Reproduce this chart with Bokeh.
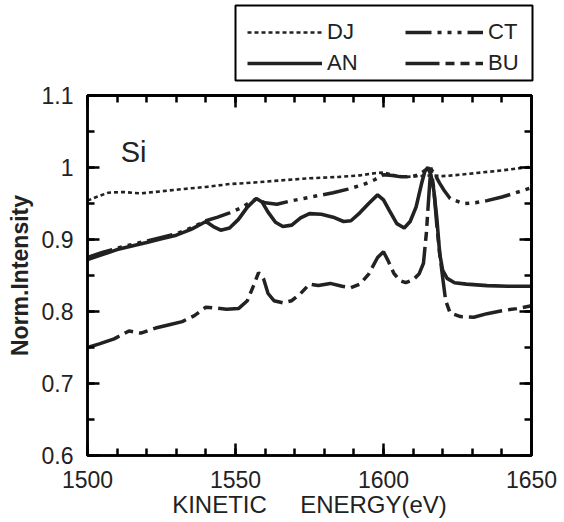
from bokeh.plotting import figure
from bokeh.models import FixedTicker, LinearAxis, Legend, LegendItem, Label, Range1d, Spacer
from bokeh.layouts import column, row
from bokeh.embed import file_html
from bokeh.resources import INLINE

# ---- data ----
dj_e = [1500, 1503, 1507, 1512, 1518, 1525, 1532, 1540, 1548, 1556, 1565, 1575, 1585,
        1592, 1597, 1600, 1604, 1608, 1612, 1616, 1620, 1626, 1633, 1640, 1646, 1650]
dj_i = [0.954, 0.959, 0.965, 0.966, 0.964, 0.967, 0.970, 0.973, 0.977, 0.979, 0.982, 0.985, 0.987,
        0.989, 0.992, 0.993, 0.989, 0.987, 0.988, 0.989, 0.988, 0.990, 0.993, 0.996, 0.999, 1.001]

an_e = [1500, 1505, 1510, 1515, 1520, 1525, 1530, 1535, 1540, 1542.5, 1545, 1548, 1551, 1554,
        1557, 1559, 1561, 1563.5, 1566, 1569, 1572, 1575, 1579, 1583, 1586.5, 1589, 1592, 1595,
        1598, 1600, 1602, 1604.5, 1607, 1609, 1611, 1613, 1614, 1615, 1616, 1617, 1618, 1619,
        1620, 1621.5, 1624, 1628, 1635, 1642, 1650]
an_i = [0.872, 0.879, 0.886, 0.891, 0.896, 0.901, 0.906, 0.914, 0.925, 0.918, 0.913, 0.916, 0.928, 0.945,
        0.957, 0.952, 0.938, 0.924, 0.918, 0.920, 0.930, 0.936, 0.935, 0.931, 0.925, 0.926, 0.937, 0.950,
        0.962, 0.955, 0.940, 0.922, 0.916, 0.925, 0.945, 0.980, 0.995, 1.000, 0.990, 0.968, 0.930, 0.880,
        0.857, 0.846, 0.840, 0.838, 0.836, 0.835, 0.835]

ct_e = [1500, 1505, 1510, 1515, 1520, 1525, 1530, 1535, 1540, 1544, 1548, 1552, 1555, 1557,
        1560, 1564, 1568, 1573, 1578, 1583, 1588, 1593, 1597, 1600, 1603, 1606, 1609, 1612,
        1614, 1615.5, 1617, 1619, 1620.5, 1622.5, 1627, 1631, 1635, 1640, 1644, 1650]
ct_i = [0.875, 0.882, 0.888, 0.893, 0.898, 0.903, 0.908, 0.916, 0.926, 0.931, 0.937, 0.944, 0.952, 0.956,
        0.951, 0.949, 0.953, 0.957, 0.961, 0.965, 0.970, 0.976, 0.983, 0.990, 0.989, 0.987, 0.987, 0.990,
        0.996, 1.000, 0.993, 0.978, 0.968, 0.957, 0.950, 0.951, 0.954, 0.959, 0.964, 0.972]

bu_e = [1500, 1504, 1509, 1514, 1518, 1523, 1528, 1532, 1536, 1540, 1543, 1547, 1551, 1554,
        1556, 1557.8, 1559.5, 1561, 1563, 1566, 1569, 1572, 1575, 1578, 1582, 1586, 1589, 1592,
        1595, 1598, 1600, 1601.5, 1603.5, 1605.5, 1607.5, 1610, 1612, 1613.5, 1614.5, 1615.3,
        1616, 1617, 1618, 1619, 1620, 1621, 1622.5, 1626, 1630.5, 1635, 1640, 1645, 1650]
bu_i = [0.750, 0.755, 0.762, 0.773, 0.770, 0.777, 0.782, 0.786, 0.794, 0.806, 0.805, 0.803, 0.804, 0.815,
        0.835, 0.854, 0.845, 0.825, 0.815, 0.812, 0.815, 0.825, 0.838, 0.836, 0.839, 0.835, 0.833, 0.838,
        0.852, 0.875, 0.883, 0.871, 0.853, 0.843, 0.840, 0.844, 0.852, 0.867, 0.910, 0.960,
        1.000, 0.970, 0.920, 0.880, 0.847, 0.815, 0.798, 0.793, 0.792, 0.797, 0.801, 0.804, 0.808]

x_major = [1500, 1550, 1600, 1650]
x_minor = list(range(1500, 1651, 10))
y_major = [0.6, 0.7, 0.8, 0.9, 1.0, 1.1]
y_minor = [round(0.6 + 0.05 * k, 2) for k in range(11)]
y_labels = {0.6: "0.6", 0.7: "0.7", 0.8: "0.8", 0.9: "0.9", 1.0: "1", 1.1: "1.1"}

FONT = "Liberation Sans"
INK = "#222222"

STYLES = {
    "DJ": dict(line_color=INK, line_width=2.6, line_dash="4 3"),
    "AN": dict(line_color=INK, line_width=3.6),
    "CT": dict(line_color=INK, line_width=3.5, line_dash="26 6 4 6 4 6 4 6"),
    "BU": dict(line_color=INK, line_width=3.5, line_dash="34 6 9 6 9 6"),
}

# ---------------- main plot ----------------
p = figure(width=560, height=440, x_range=Range1d(1500, 1650), y_range=Range1d(0.6, 1.1),
           output_backend="svg", toolbar_location=None,
           min_border_left=87, min_border_right=29, min_border_top=13, min_border_bottom=67)
p.grid.visible = False
p.outline_line_color = "black"
p.outline_line_width = 2.5
p.background_fill_color = "white"
p.border_fill_color = "white"

# top / right tick-only axes (no labels)
top_minor = LinearAxis(ticker=FixedTicker(ticks=[], minor_ticks=x_minor))
top_major = LinearAxis(ticker=FixedTicker(ticks=[], minor_ticks=x_major))
right_minor = LinearAxis(ticker=FixedTicker(ticks=[], minor_ticks=y_minor))
right_major = LinearAxis(ticker=FixedTicker(ticks=[], minor_ticks=y_major))
for ax in (top_minor, top_major):
    p.add_layout(ax, "above")
for ax in (right_minor, right_major):
    p.add_layout(ax, "right")

p.below[0].ticker = FixedTicker(ticks=x_major, minor_ticks=x_minor)
p.left[0].ticker = FixedTicker(ticks=y_major, minor_ticks=y_minor)

for ax in p.axis:
    ax.axis_line_width = 2.5
    ax.axis_line_color = "black"
    ax.major_tick_in = 12
    ax.major_tick_out = 0
    ax.minor_tick_in = 7
    ax.minor_tick_out = 0
    ax.major_tick_line_width = 2.5
    ax.minor_tick_line_width = 2.5
    ax.major_tick_line_color = "black"
    ax.minor_tick_line_color = "black"
    ax.major_label_text_font = FONT
    ax.major_label_text_font_size = "23px"
    ax.major_label_text_color = INK
    ax.axis_label_text_font = FONT
    ax.axis_label_text_color = INK
top_major.minor_tick_in = 12
right_major.minor_tick_in = 12

xa = p.below[0]
xa.axis_label = "KINETIC\u00a0\u00a0\u00a0\u00a0\u00a0ENERGY(eV)"
xa.axis_label_text_font_size = "24px"
xa.axis_label_text_font_style = "normal"
xa.major_label_standoff = 15
xa.axis_label_standoff = 0

ya = p.left[0]
ya.major_label_overrides = y_labels
ya.axis_label = "Norm.Intensity"
ya.axis_label_text_font_size = "23px"
ya.axis_label_text_font_style = "bold"
ya.major_label_standoff = 14
ya.axis_label_standoff = 6

r = {}
r["DJ"] = p.line(dj_e, dj_i, **STYLES["DJ"])
r["AN"] = p.line(an_e, an_i, **STYLES["AN"])
r["CT"] = p.line(ct_e, ct_i, **STYLES["CT"])
r["BU"] = p.line(bu_e, bu_i, **STYLES["BU"])

p.add_layout(Label(x=1511.2, y=1.022, text="Si", text_font=FONT, text_font_size="29px",
                   text_color=INK, text_baseline="alphabetic"))

# ---------------- legend box (its own small figure) ----------------
lg = figure(width=301, height=79, x_range=Range1d(0, 1), y_range=Range1d(0, 1),
            output_backend="svg", toolbar_location=None, x_axis_type=None, y_axis_type=None,
            min_border_left=2, min_border_right=2, min_border_top=2, min_border_bottom=2)
lg.grid.visible = False
lg.outline_line_color = "black"
lg.outline_line_width = 2
lg.background_fill_color = "white"
lg.border_fill_color = "white"

# legend-only renderers, kept outside the visible range of the legend box
dummy = {k: lg.line([2, 3], [2, 3], **v) for k, v in STYLES.items()}


def make_legend(labels, loc, gw):
    L = Legend(items=[LegendItem(label=k, renderers=[dummy[k]]) for k in labels], location=loc)
    L.border_line_color = None
    L.background_fill_alpha = 0
    L.label_text_font = FONT
    L.label_text_font_size = "22px"
    L.label_text_color = INK
    L.glyph_width = gw
    L.glyph_height = 24
    L.label_height = 24
    L.label_standoff = 5
    L.padding = 0
    L.spacing = 5
    L.margin = 0
    return L


lg.add_layout(make_legend(["DJ", "AN"], (12, 4), 75), "center")
lg.add_layout(make_legend(["CT", "BU"], (170, 4), 78), "center")

layout = column(Spacer(height=3), row(Spacer(width=233), lg), p)

open("out.html", "w").write(file_html(layout, INLINE))
